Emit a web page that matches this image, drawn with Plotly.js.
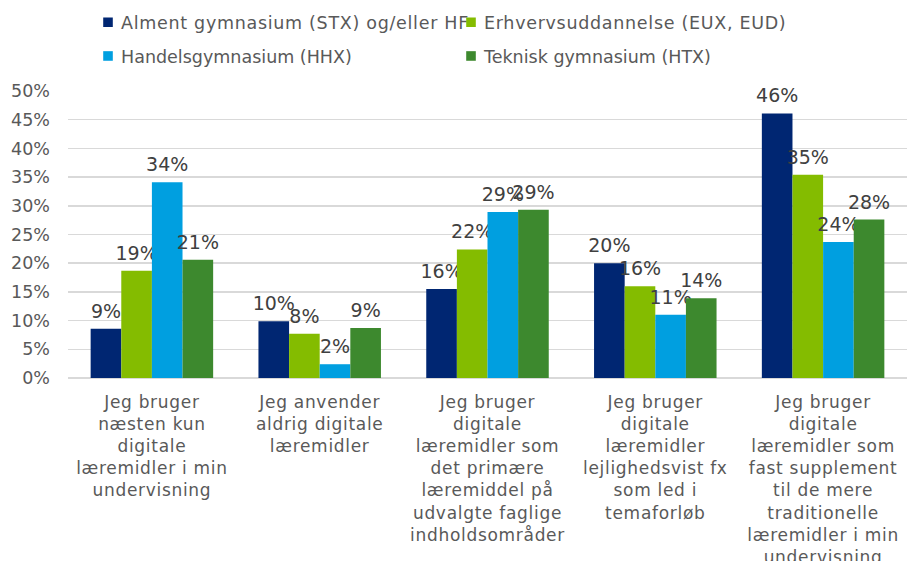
<!DOCTYPE html>
<html>
<head>
<meta charset="utf-8">
<script src="https://cdn.plot.ly/plotly-3.0.1.min.js"></script>
<style>
html,body{margin:0;padding:0;background:#fff}
#chart{width:907px;height:561px}
#chart g.xtick text{letter-spacing:0.7px}
#chart text.legendtext{letter-spacing:0.7px}
#chart g.legendpoints path{transform-box:fill-box; transform-origin:center; translate:11px 0; scale:0.8}
#chart text.bartext{translate:0 -4px}
</style>
</head>
<body>
<div id="chart"></div>
<script>
const categories = [
  "Jeg bruger<br>næsten kun<br>digitale<br>læremidler i min<br>undervisning",
  "Jeg anvender<br>aldrig digitale<br>læremidler",
  "Jeg bruger<br>digitale<br>læremidler som<br>det primære<br>læremiddel på<br>udvalgte faglige<br>indholdsområder",
  "Jeg bruger<br>digitale<br>læremidler<br>lejlighedsvist fx<br>som led i<br>temaforløb",
  "Jeg bruger<br>digitale<br>læremidler som<br>fast supplement<br>til de mere<br>traditionelle<br>læremidler i min<br>undervisning"
];
const seriesNames = [
  "Alment gymnasium (STX) og/eller HF",
  "Erhvervsuddannelse (EUX, EUD)",
  "Handelsgymnasium (HHX)",
  "Teknisk gymnasium (HTX)"
];
const stx = [8.6, 9.9, 15.5, 20.0, 46.1];
const eud = [18.7, 7.7, 22.4, 16.0, 35.4];
const hhx = [34.1, 2.4, 28.9, 11.0, 23.7];
const htx = [20.6, 8.7, 29.3, 13.9, 27.6];
const colors = ["#002672", "#84BC00", "#009FE0", "#3D892E"];
const legendIds = ["legend", "legend", "legend2", "legend2"];

const data = [stx, eud, hhx, htx].map((vals, i) => ({
  type: "bar",
  name: seriesNames[i],
  x: categories,
  y: vals,
  marker: {color: colors[i]},
  text: vals.map(v => Math.round(v) + "%"),
  textposition: "outside",
  constraintext: "none",
  cliponaxis: false,
  textfont: {family: "DejaVu Sans", size: 19, color: "#404040"},
  hoverinfo: "skip",
  legend: legendIds[i]
}));

const legendCommon = {
  orientation: "h",
  xref: "paper",
  yref: "container",
  xanchor: "left",
  yanchor: "middle",
  entrywidth: 318,
  entrywidthmode: "pixels",
  itemwidth: 30,
  font: {family: "DejaVu Sans", size: 17.5, color: "#595959"},
  bgcolor: "rgba(0,0,0,0)",
  traceorder: "normal"
};

const layout = {
  width: 907,
  height: 561,
  margin: {l: 68, r: 0, t: 91, b: 183},
  paper_bgcolor: "#ffffff",
  plot_bgcolor: "#ffffff",
  barmode: "group",
  bargap: 0.27,
  bargroupgap: 0,
  font: {family: "DejaVu Sans", color: "#595959"},
  showlegend: true,
  legend: Object.assign({}, legendCommon, {x: 0.0155, y: 0.96}),
  legend2: Object.assign({}, legendCommon, {x: 0.0155, y: 0.9}),
  xaxis: {
    type: "category",
    showgrid: false,
    showline: false,
    zeroline: false,
    ticks: "",
    tickangle: 0,
    ticklabelstandoff: 12,
    tickfont: {family: "DejaVu Sans", size: 17, color: "#595959"}
  },
  yaxis: {
    range: [0, 50],
    dtick: 5,
    tick0: 0,
    ticksuffix: "%",
    showgrid: true,
    gridcolor: "#D9D9D9",
    gridwidth: 1.5,
    zeroline: true,
    zerolinecolor: "#D9D9D9",
    zerolinewidth: 1.5,
    showline: false,
    ticks: "",
    ticklabelstandoff: 17,
    tickfont: {family: "DejaVu Sans", size: 17.5, color: "#595959"}
  }
};

Plotly.newPlot("chart", data, layout, {displayModeBar: false, staticPlot: true});
</script>
</body>
</html>
